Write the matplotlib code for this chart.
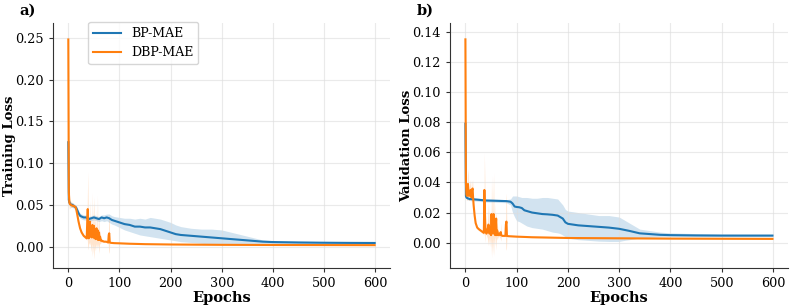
import numpy as np
import matplotlib.pyplot as plt

plt.rcParams['font.family'] = 'DejaVu Serif'

# ---- a) training loss ----
tr_bp_ep = [0, 1, 2, 4, 6, 8, 10, 12, 15, 18, 20, 23, 26, 30, 35, 40, 45, 50, 55, 60, 65, 70, 75, 80, 85, 90,
            100, 110, 120, 130, 140, 150, 160, 170, 180, 190, 200, 210, 220, 240, 260, 280, 300, 320, 340,
            360, 380, 400, 450, 500, 550, 599]
tr_bp = [0.125, 0.056, 0.053, 0.051, 0.050, 0.050, 0.049, 0.048, 0.047, 0.043, 0.040, 0.037, 0.036, 0.035,
         0.035, 0.033, 0.034, 0.035, 0.034, 0.033, 0.035, 0.034, 0.035, 0.034, 0.032, 0.031,
         0.029, 0.027, 0.026, 0.024, 0.024, 0.023, 0.023, 0.022, 0.021, 0.019, 0.017, 0.015, 0.014, 0.013,
         0.012, 0.011, 0.010, 0.009, 0.008, 0.007, 0.006, 0.0055, 0.005, 0.0047, 0.0045, 0.0044]
tr_bp_lo = [0.115, 0.052, 0.050, 0.048, 0.047, 0.047, 0.046, 0.045, 0.044, 0.040, 0.037, 0.034, 0.033, 0.032,
            0.032, 0.030, 0.031, 0.032, 0.031, 0.030, 0.031, 0.030, 0.031, 0.029, 0.027, 0.026,
            0.023, 0.020, 0.018, 0.016, 0.014, 0.013, 0.012, 0.011, 0.010, 0.009, 0.008, 0.007, 0.006, 0.005,
            0.004, 0.003, 0.003, 0.003, 0.003, 0.003, 0.003, 0.003, 0.0035, 0.0035, 0.0035, 0.0035]
tr_bp_hi = [0.130, 0.060, 0.056, 0.054, 0.053, 0.053, 0.052, 0.051, 0.050, 0.046, 0.043, 0.040, 0.039, 0.038,
            0.038, 0.036, 0.037, 0.038, 0.037, 0.036, 0.038, 0.038, 0.039, 0.039, 0.037, 0.036,
            0.035, 0.034, 0.034, 0.033, 0.034, 0.033, 0.035, 0.034, 0.033, 0.031, 0.029, 0.026, 0.024, 0.022,
            0.021, 0.021, 0.020, 0.017, 0.014, 0.011, 0.008, 0.007, 0.0065, 0.006, 0.0055, 0.0055]

tr_dbp_ep = [0, 1, 2, 3, 5, 8, 10, 13, 15, 17, 20, 23, 26, 30, 34, 36, 37, 38, 39, 40, 42, 43, 44, 46, 47,
             48, 50, 51, 52, 54, 55, 56, 57, 58, 60, 61, 62, 64, 66, 70, 74, 78, 79, 80, 81, 84,
             90, 100, 120, 150, 200, 250, 300, 400, 500, 599]
tr_dbp = [0.248, 0.065, 0.053, 0.051, 0.050, 0.049, 0.049, 0.048, 0.046, 0.040, 0.030, 0.022, 0.017, 0.013,
          0.011, 0.010, 0.030, 0.045, 0.020, 0.010, 0.030, 0.012, 0.020, 0.011, 0.026,
          0.012, 0.025, 0.010, 0.018, 0.009, 0.022, 0.012, 0.020, 0.008, 0.017, 0.008, 0.012, 0.007, 0.007,
          0.006, 0.006, 0.005, 0.014, 0.016, 0.005, 0.0045,
          0.0042, 0.004, 0.0035, 0.003, 0.0026, 0.0024, 0.0022, 0.002, 0.0019, 0.0018]
tr_dbp_lo = [0.24, 0.050, 0.045, 0.046, 0.047, 0.047, 0.047, 0.046, 0.044, 0.038, 0.028, 0.020, 0.015, 0.011,
             0.009, 0.008, 0.010, 0.000, -0.004, 0.005, 0.002, 0.006, -0.006, 0.004, -0.012,
             0.002, -0.015, 0.004, -0.005, 0.004, -0.004, 0.004, -0.002, 0.004, -0.008, 0.004, 0.003, 0.005, 0.005,
             0.005, 0.005, 0.004, -0.006, -0.008, 0.004, 0.004,
             0.0038, 0.0036, 0.0032, 0.0028, 0.0024, 0.0022, 0.002, 0.0018, 0.0017, 0.0016]
tr_dbp_hi = [0.256, 0.085, 0.070, 0.058, 0.054, 0.052, 0.051, 0.050, 0.048, 0.042, 0.032, 0.024, 0.019, 0.015,
             0.013, 0.012, 0.050, 0.090, 0.045, 0.015, 0.055, 0.018, 0.040, 0.018, 0.065,
             0.022, 0.060, 0.016, 0.040, 0.014, 0.045, 0.020, 0.062, 0.012, 0.040, 0.012, 0.020, 0.009, 0.009,
             0.007, 0.007, 0.006, 0.030, 0.040, 0.006, 0.005,
             0.0046, 0.0044, 0.0038, 0.0032, 0.0028, 0.0026, 0.0024, 0.0022, 0.0021, 0.002]

# ---- b) validation loss ----
va_bp_ep = [0, 1, 2, 4, 8, 15, 25, 40, 60, 80, 88, 92, 96, 100, 105, 110, 115, 120, 130, 140, 150, 160,
            170, 180, 185, 190, 195, 200, 210, 220, 240, 260, 280, 300, 310, 320, 330, 340, 360, 380, 400,
            450, 500, 550, 599]
va_bp = [0.079, 0.031, 0.030, 0.0295, 0.029, 0.0288, 0.0285, 0.028, 0.0278, 0.0276, 0.0272, 0.026, 0.024,
         0.0237, 0.0235, 0.023, 0.0215, 0.021, 0.020, 0.0195, 0.019, 0.0188, 0.0185, 0.018, 0.017, 0.016,
         0.0135, 0.0125, 0.012, 0.0115, 0.011, 0.0105, 0.010, 0.0092, 0.0085, 0.0078, 0.007, 0.0062,
         0.0057, 0.0052, 0.005, 0.0048, 0.0047, 0.0047, 0.0047]
va_bp_lo = [0.075, 0.030, 0.029, 0.0285, 0.028, 0.0278, 0.0275, 0.027, 0.0268, 0.0265, 0.025, 0.020, 0.017,
            0.0145, 0.014, 0.013, 0.012, 0.011, 0.010, 0.0095, 0.009, 0.008, 0.007, 0.0065, 0.006, 0.005,
            0.004, 0.003, 0.0025, 0.002, 0.0015, 0.001, 0.0008, 0.0008, 0.0015, 0.002, 0.0025, 0.003,
            0.0035, 0.0038, 0.004, 0.004, 0.004, 0.004, 0.004]
va_bp_hi = [0.083, 0.032, 0.031, 0.0305, 0.030, 0.0298, 0.0295, 0.029, 0.0288, 0.0286, 0.029, 0.031, 0.031,
            0.031, 0.0305, 0.030, 0.030, 0.030, 0.0295, 0.0295, 0.030, 0.030, 0.0295, 0.029, 0.027, 0.025,
            0.022, 0.021, 0.0205, 0.020, 0.019, 0.018, 0.018, 0.017, 0.015, 0.013, 0.011, 0.009, 0.008,
            0.007, 0.0065, 0.006, 0.0056, 0.0055, 0.0055]

va_dbp_ep = [0, 1, 2, 3, 4, 5, 6, 7, 8, 10, 11, 12, 13, 14, 15, 16, 18, 20, 23, 26, 30, 34, 36, 37, 38, 39,
             41, 43, 45, 47, 49, 50, 51, 52, 53, 54, 55, 56, 57, 58, 59, 60, 61, 62, 64, 66, 68, 69, 70, 72,
             75, 78, 79, 80, 81, 84, 90, 100, 130, 160, 200, 300, 400, 500, 599]
va_dbp = [0.135, 0.040, 0.032, 0.031, 0.036, 0.039, 0.033, 0.031, 0.032, 0.035, 0.031, 0.030, 0.035, 0.036,
          0.030, 0.025, 0.018, 0.013, 0.010, 0.009, 0.008, 0.007, 0.0065, 0.035, 0.020, 0.010,
          0.006, 0.008, 0.012, 0.006, 0.010, 0.005, 0.019, 0.007, 0.018, 0.006, 0.019, 0.008, 0.012, 0.005,
          0.010, 0.016, 0.005, 0.008, 0.005, 0.006, 0.005, 0.007, 0.005, 0.0045,
          0.0045, 0.0045, 0.012, 0.014, 0.0045, 0.0043, 0.0042, 0.004, 0.0036, 0.0034, 0.0031, 0.0029,
          0.0027, 0.0026, 0.0025]
va_dbp_lo = [0.130, 0.032, 0.028, 0.028, 0.030, 0.030, 0.028, 0.028, 0.028, 0.030, 0.028, 0.027, 0.030, 0.030,
             0.027, 0.023, 0.016, 0.012, 0.009, 0.008, 0.007, 0.006, 0.005, 0.010, 0.000, 0.006,
             0.005, 0.003, -0.002, 0.004, -0.003, 0.003, -0.010, 0.002, -0.008, 0.004, -0.009, 0.003, -0.002,
             0.004, 0.002, -0.005, 0.004, 0.002, 0.004, 0.004, 0.003, 0.001, 0.004, 0.004,
             0.004, 0.004, -0.004, -0.005, 0.004, 0.004, 0.0038, 0.0036, 0.0033, 0.0031, 0.0028, 0.0026,
             0.0024, 0.0023, 0.0022]
va_dbp_hi = [0.138, 0.048, 0.038, 0.036, 0.045, 0.049, 0.040, 0.035, 0.038, 0.042, 0.035, 0.034, 0.040, 0.042,
             0.034, 0.027, 0.020, 0.014, 0.011, 0.010, 0.009, 0.008, 0.008, 0.060, 0.040, 0.014,
             0.007, 0.014, 0.026, 0.008, 0.020, 0.007, 0.045, 0.012, 0.044, 0.008, 0.047, 0.013, 0.026, 0.006,
             0.018, 0.020, 0.006, 0.014, 0.006, 0.008, 0.007, 0.013, 0.006, 0.005,
             0.005, 0.005, 0.028, 0.033, 0.005, 0.0047, 0.0046, 0.0044, 0.0039, 0.0037, 0.0034, 0.0032,
             0.003, 0.0029, 0.0028]

blue = '#1f77b4'
orange = '#ff7f0e'

fig = plt.figure(figsize=(7.93, 3.08), dpi=100)
ax1 = fig.add_axes([0.0668, 0.130, 0.425, 0.795])
ax2 = fig.add_axes([0.5675, 0.130, 0.426, 0.795])

panels = [
    (ax1, tr_bp_ep, tr_bp, tr_bp_lo, tr_bp_hi, tr_dbp_ep, tr_dbp, tr_dbp_lo, tr_dbp_hi, 'Training Loss'),
    (ax2, va_bp_ep, va_bp, va_bp_lo, va_bp_hi, va_dbp_ep, va_dbp, va_dbp_lo, va_dbp_hi, 'Validation Loss'),
]

for ax, bep, bm, blo, bhi, oep, om, olo, ohi, ylab in panels:
    ax.fill_between(bep, blo, bhi, color=blue, alpha=0.2, linewidth=0)
    ax.plot(bep, bm, color=blue, lw=1.5, label='BP-MAE')
    ax.fill_between(oep, olo, ohi, color=orange, alpha=0.2, linewidth=0)
    ax.plot(oep, om, color=orange, lw=1.5, label='DBP-MAE')
    ax.set_xlabel('Epochs', fontsize=10.5, fontweight='bold', labelpad=1)
    ax.set_ylabel(ylab, fontsize=9.5, fontweight='bold')
    ax.yaxis.set_label_coords(-0.11, 0.5)
    ax.grid(True, color='#dddddd', alpha=0.6, lw=0.8)
    ax.spines['top'].set_visible(False)
    ax.spines['right'].set_visible(False)
    ax.spines['left'].set_color('#333333')
    ax.spines['bottom'].set_color('#333333')
    ax.tick_params(labelsize=9.2, length=3, color='#333333')
    ax.set_xticks([0, 100, 200, 300, 400, 500, 600])
    ax.set_xlim(-30, 629)

ax1.set_ylim(-0.0255, 0.2676)
ax1.set_yticks([0.0, 0.05, 0.10, 0.15, 0.20, 0.25])
ax2.set_ylim(-0.0168, 0.1458)
ax2.set_yticks([0.0, 0.02, 0.04, 0.06, 0.08, 0.10, 0.12, 0.14])
ax2.yaxis.set_major_formatter(plt.FormatStrFormatter('%.2f'))
ax1.yaxis.set_major_formatter(plt.FormatStrFormatter('%.2f'))

ax1.legend(loc='upper left', bbox_to_anchor=(0.105, 1.005), borderaxespad=0, fontsize=9,
           framealpha=0.8, edgecolor='#cccccc', handlelength=2.2)

fig.text(0.025, 0.952, 'a)', fontsize=10.5, fontweight='bold')
fig.text(0.526, 0.952, 'b)', fontsize=10.5, fontweight='bold')

fig.savefig('out.png', dpi=100)
